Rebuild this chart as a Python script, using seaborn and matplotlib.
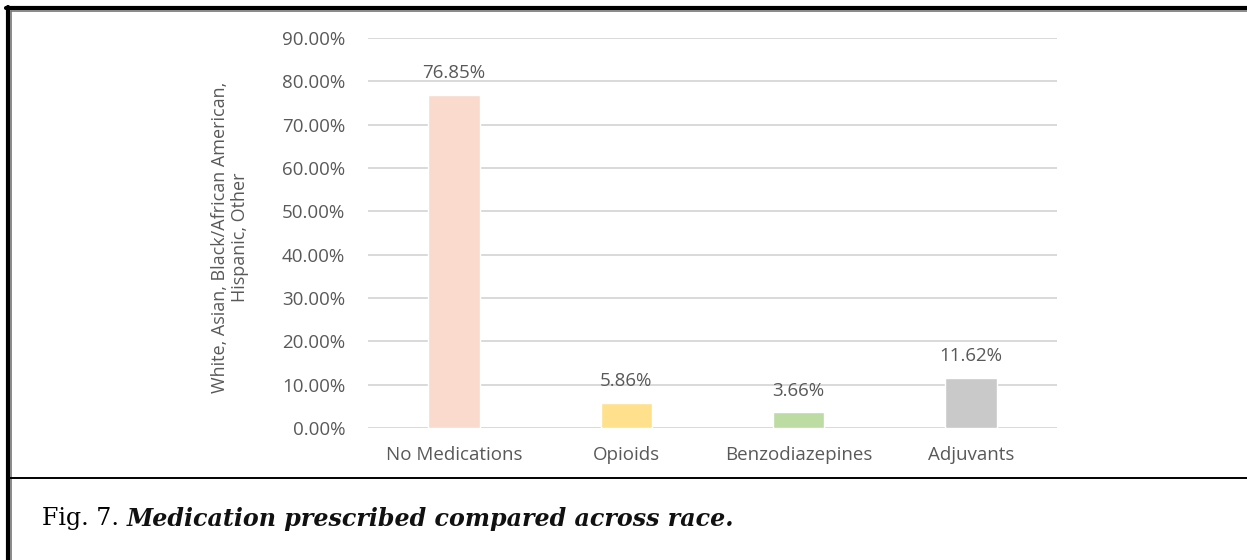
import matplotlib
matplotlib.use("Agg")
import matplotlib.pyplot as plt
from matplotlib.lines import Line2D
from matplotlib.ticker import FuncFormatter
import seaborn as sns
import pandas as pd

categories = ["No Medications", "Opioids", "Benzodiazepines", "Adjuvants"]
percentages = [76.85, 5.86, 3.66, 11.62]
bar_colors = ["#F9DACD", "#FFE08C", "#BCDCA3", "#C9C9C9"]
y_ticks = [0, 10, 20, 30, 40, 50, 60, 70, 80, 90]
y_label = "White, Asian, Black/African American,\nHispanic, Other"
caption_prefix = "Fig. 7. "
caption_body = "Medication prescribed compared across race."

sns.set_theme(style="white")
plt.rcParams["font.family"] = ["Open Sans", "DejaVu Sans"]

text_gray = "#595959"
W, H = 1247, 560
fig = plt.figure(figsize=(W / 100, H / 100), dpi=100)
fig.patch.set_facecolor("white")

ax = fig.add_axes([368 / W, (H - 428) / H, (1057 - 368) / W, (428 - 38) / H])

df = pd.DataFrame({"category": categories, "pct": percentages})
sns.barplot(data=df, x="category", y="pct", hue="category",
            palette=bar_colors, width=0.30, legend=False, ax=ax,
            saturation=1, zorder=3)

ax.set_ylim(0, 90)
ax.set_yticks(y_ticks)
ax.yaxis.set_major_formatter(FuncFormatter(lambda v, _: f"{v:.2f}%"))
ax.grid(axis="y", color="#D9D9D9", linewidth=1.4, zorder=0)
ax.grid(axis="x", visible=False)
for s in ax.spines.values():
    s.set_visible(False)
ax.tick_params(axis="y", length=0, pad=16.5, labelsize=13.5, labelcolor=text_gray)
ax.tick_params(axis="x", length=0, pad=13, labelsize=13.5, labelcolor=text_gray)
ax.set_xlabel("")
ax.set_ylabel(y_label, fontsize=13, color=text_gray, linespacing=1.2)
ax.yaxis.set_label_coords(-0.172, 0.49)

for container in ax.containers:
    vals = container.datavalues
    ax.bar_label(container, labels=[f"{v:.2f}%" for v in vals], padding=9,
                 fontsize=13.5, color=text_gray)

# Page frame: double rule on top and left, separator above the caption
frame = [
    ((7.5, 7.5), (0, H - 7)),
    ((11, 11), (0, H - 10.5)),
    ((6, W), (H - 7.5, H - 7.5)),
    ((11, W), (H - 10.5, H - 10.5)),
    ((9, W), (H - 478, H - 478)),
]
widths = [3.0, 1.2, 3.0, 1.2, 1.4]
colors = ["black", "#777777", "black", "#777777", "black"]
for (xs, ys), lw, c in zip(frame, widths, colors):
    fig.add_artist(Line2D([x / W for x in xs], [y / H for y in ys],
                          transform=fig.transFigure, color=c, linewidth=lw))

# Caption: upright figure number followed by bold italic title, sized to
# span from x=42 to x=733
cap_left, cap_right, cap_y = 42, 733, H - 519
serif = "DejaVu Serif"


def draw_caption(size):
    a = fig.text(cap_left / W, cap_y / H, caption_prefix, fontsize=size,
                 family=serif, color="black", va="center")
    fig.canvas.draw()
    bb = a.get_window_extent()
    b = fig.text(bb.x1 / W, cap_y / H, caption_body, fontsize=size,
                 family=serif, style="italic", weight="bold",
                 color="#111111", va="center")
    fig.canvas.draw()
    return a, b, b.get_window_extent().x1


base = 12.0
a, b, right = draw_caption(base)
a.remove()
b.remove()
draw_caption(base * (cap_right - cap_left) / (right - cap_left))

fig.savefig("out.png", dpi=100)
